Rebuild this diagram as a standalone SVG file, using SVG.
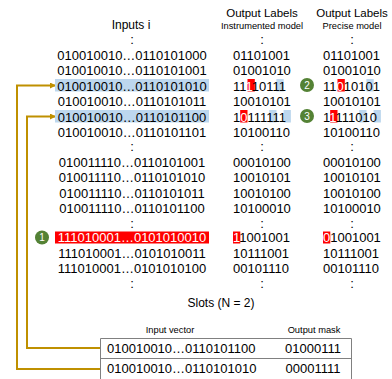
<svg xmlns="http://www.w3.org/2000/svg" width="392" height="379" viewBox="0 0 392 379">
<style>
text{font-family:"Liberation Sans",Arial,sans-serif;fill:#000}
.d{font-size:13px}
.m{text-anchor:middle}
.t{font-size:11.5px;text-anchor:middle}
.s{font-size:9.3px;text-anchor:middle}
.w{fill:#fff}
.hb{fill:#BDD7EE}
.hr{fill:#FF0000}
.bd{fill:#548235}
.bt{font-size:10px;fill:#fff;text-anchor:middle}
.con{fill:none;stroke:#BF9000;stroke-width:2}
.grid{fill:none;stroke:#808080;stroke-width:1}
</style>
<defs>
<marker id="ah" viewBox="0 0 6 6" refX="6" refY="3" markerWidth="6" markerHeight="6" markerUnits="userSpaceOnUse" orient="auto">
<path d="M0,0 L6,3 L0,6 Z" fill="#BF9000"/>
</marker>
</defs>

<g id="connectors">
<path class="con" d="M100,369 H17 V85.5 H56" marker-end="url(#ah)"/>
<path class="con" d="M100,348 H27 V116.5 H56" marker-end="url(#ah)"/>
</g>

<g id="inputs">
<text class="t" x="131" y="28.5" style="font-size:12px">Inputs i</text>
<text class="d m" x="132" y="44">:</text>
<rect class="hb" x="55" y="79" width="154" height="12.5"/>
<rect class="hb" x="55" y="110" width="154" height="12.5"/>
<rect class="hr" x="55" y="231.5" width="154" height="12"/>
<text class="d m" x="132" y="60">010010010…0110101000</text>
<text class="d m" x="132" y="75.4">010010010…0110101001</text>
<text class="d m" x="132" y="90.8">010010010…0110101010</text>
<text class="d m" x="132" y="106.2">010010010…0110101011</text>
<text class="d m" x="132" y="121.6">010010010…0110101100</text>
<text class="d m" x="132" y="137">010010010…0110101101</text>
<text class="d m" x="132" y="151">:</text>
<text class="d m" x="132" y="167">010011110…0110101001</text>
<text class="d m" x="132" y="182.3">010011110…0110101010</text>
<text class="d m" x="132" y="197.6">010011110…0110101011</text>
<text class="d m" x="132" y="213">010011110…0110101100</text>
<text class="d m" x="132" y="227.5">:</text>
<text class="d m w" x="132" y="242">111010001…0101010010</text>
<text class="d m" x="132" y="257.5">111010001…0101010011</text>
<text class="d m" x="132" y="273">111010001…0101010100</text>
<text class="d m" x="132" y="288">:</text>
</g>

<g id="instrumented">
<text class="t" x="262" y="16.5">Output Labels</text>
<text class="s" x="262" y="28.5">Instrumented model</text>
<text class="d m" x="262" y="44">:</text>
<rect class="hr" x="247.5" y="79" width="7.3" height="12.5"/>
<rect class="hb" x="276.4" y="79" width="7.3" height="12.5"/>
<rect class="hr" x="240.2" y="110" width="7.3" height="12.5"/>
<rect class="hb" x="269.2" y="110" width="7.3" height="12.5"/>
<rect class="hb" x="283.6" y="110" width="7.3" height="12.5"/>
<rect class="hr" x="233" y="231.5" width="7.3" height="12"/>
<text class="d" x="233" y="60">01101001</text>
<text class="d" x="233" y="75.4">01001010</text>
<text class="d" x="233" y="90.8">11<tspan class="w">1</tspan>10111</text>
<text class="d" x="233" y="106.2">10010101</text>
<text class="d" x="233" y="121.6">1<tspan class="w">0</tspan>111111</text>
<text class="d" x="233" y="137">10100110</text>
<text class="d m" x="262" y="151">:</text>
<text class="d" x="233" y="167">00010100</text>
<text class="d" x="233" y="182.3">10010101</text>
<text class="d" x="233" y="197.6">10010100</text>
<text class="d" x="233" y="213">10100010</text>
<text class="d m" x="262" y="227.5">:</text>
<text class="d" x="233" y="242"><tspan class="w">1</tspan>1001001</text>
<text class="d" x="233" y="257.5">10111001</text>
<text class="d" x="233" y="273">00101110</text>
<text class="d m" x="262" y="288">:</text>
</g>

<g id="precise">
<text class="t" x="352" y="16.5">Output Labels</text>
<text class="s" x="352" y="28.5">Precise model</text>
<text class="d m" x="352" y="44">:</text>
<rect class="hr" x="337.5" y="79" width="7.3" height="12.5"/>
<rect class="hb" x="366.4" y="79" width="7.3" height="12.5"/>
<rect class="hr" x="330.2" y="110" width="7.3" height="12.5"/>
<rect class="hb" x="359.2" y="110" width="7.3" height="12.5"/>
<rect class="hb" x="373.6" y="110" width="7.3" height="12.5"/>
<rect class="hr" x="323" y="231.5" width="7.3" height="12"/>
<text class="d" x="323" y="60">01101001</text>
<text class="d" x="323" y="75.4">01001010</text>
<text class="d" x="323" y="90.8">11<tspan class="w">0</tspan>10101</text>
<text class="d" x="323" y="106.2">10010101</text>
<text class="d" x="323" y="121.6">1<tspan class="w">1</tspan>111010</text>
<text class="d" x="323" y="137">10100110</text>
<text class="d m" x="352" y="151">:</text>
<text class="d" x="323" y="167">00010100</text>
<text class="d" x="323" y="182.3">10010101</text>
<text class="d" x="323" y="197.6">10010100</text>
<text class="d" x="323" y="213">10100010</text>
<text class="d m" x="352" y="227.5">:</text>
<text class="d" x="323" y="242"><tspan class="w">0</tspan>1001001</text>
<text class="d" x="323" y="257.5">10111001</text>
<text class="d" x="323" y="273">00101110</text>
<text class="d m" x="352" y="288">:</text>
</g>

<g id="badge-1">
<circle class="bd" cx="42" cy="237.5" r="7"/>
<text class="bt" x="42" y="241">1</text>
</g>
<g id="badge-2">
<circle class="bd" cx="307" cy="85" r="7"/>
<text class="bt" x="307" y="88.5">2</text>
</g>
<g id="badge-3">
<circle class="bd" cx="307" cy="116" r="7"/>
<text class="bt" x="307" y="119.5">3</text>
</g>

<g id="slots">
<text class="t" x="221" y="307" style="font-size:12px">Slots (N = 2)</text>
<text class="s" x="170" y="333">Input vector</text>
<text class="s" x="314" y="333">Output mask</text>
<path class="grid" d="M100.5,379 V338.5 H351.5 V379 M100.5,358.5 H351.5"/>
<text class="d" x="107" y="353">010010010…0110101100</text>
<text class="d m" x="313" y="353">01000111</text>
<text class="d" x="107" y="373">010010010…0110101010</text>
<text class="d m" x="313" y="373">00001111</text>
</g>
</svg>
